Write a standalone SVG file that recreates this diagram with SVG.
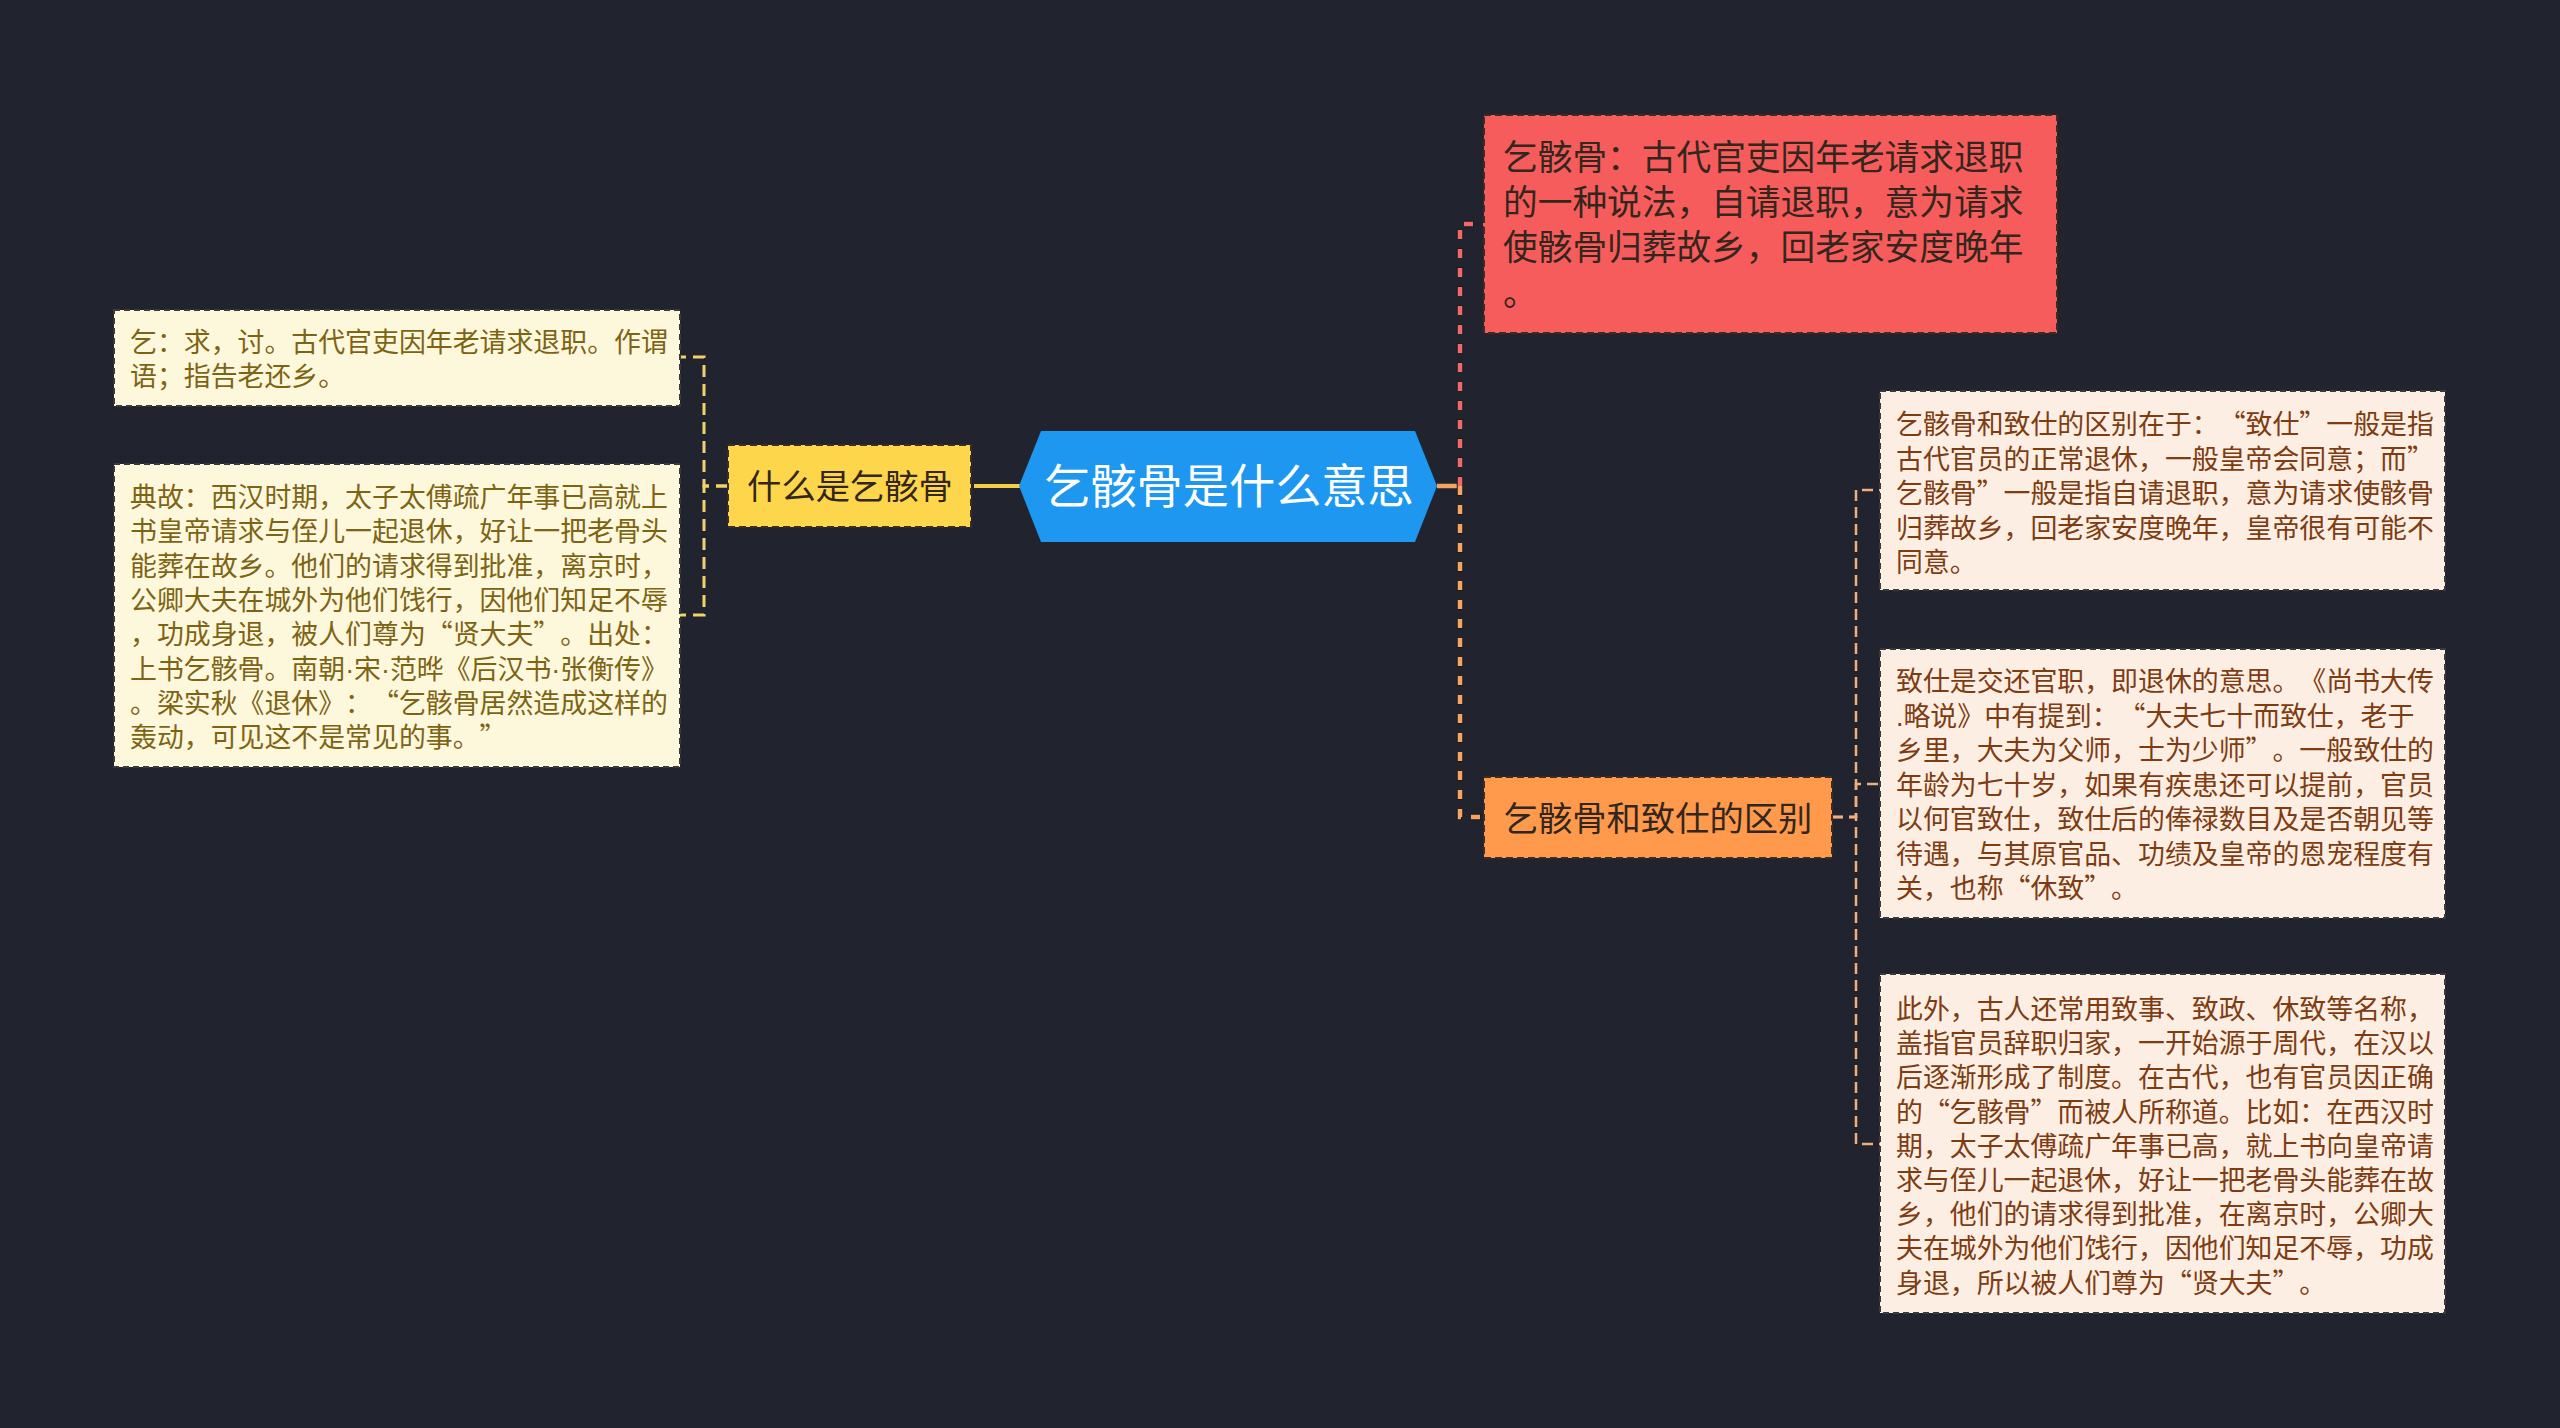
<svg xmlns="http://www.w3.org/2000/svg" width="2560" height="1428" viewBox="0 0 2560 1428">
<style>
  text { font-family: "Noto Sans CJK SC", "Noto Sans", sans-serif; text-spacing-trim: space-all; }
  .lat { font-family: "Liberation Sans", sans-serif; }
  .leafL rect { fill: #fdf7dc; stroke: #3a3a3a; stroke-width: 2; stroke-dasharray: 6 4; }
  .leafL text { fill: #7d6414; font-size: 26.9px; }
  .leafR rect { fill: #fdeee3; stroke: #3a3a3a; stroke-width: 2; stroke-dasharray: 6 4; }
  .leafR text { fill: #7e3c12; font-size: 26.9px; }
  .sub rect { stroke: #3a2e22; stroke-width: 2; stroke-dasharray: 7 4; }
  .sub text { font-size: 34.3px; fill: #33261c; }
  .conn { fill: none; }
</style>
<rect x="0" y="0" width="2560" height="1428" fill="#21242f"/>

<g id="connectors" class="conn">
  <path d="M1020,486 H974" stroke="#f2cf45" stroke-width="4"/>
  <path d="M728,486 H704 V357 H680" stroke="#f0d468" stroke-width="3" stroke-dasharray="12 7"/>
  <path d="M728,486 H704 V615 H680" stroke="#f0d468" stroke-width="3" stroke-dasharray="12 7"/>
  <path d="M1437,486 H1460" stroke="#f5a463" stroke-width="4.5"/>
  <path d="M1460,486 V224 H1484" stroke="#1a1a1a" stroke-width="6.5" stroke-dasharray="10 9"/>
  <path d="M1460,486 V224 H1484" stroke="#ee6a6a" stroke-width="4.5" stroke-dasharray="9 10"/>
  <path d="M1460,486 V817 H1484" stroke="#1a1a1a" stroke-width="6.5" stroke-dasharray="10 9"/>
  <path d="M1460,486 V817 H1484" stroke="#f5a463" stroke-width="4.5" stroke-dasharray="9 10"/>
  <path d="M1832,817 H1856 V490 H1880" stroke="#f2ad7e" stroke-width="2.5" stroke-dasharray="11 6"/>
  <path d="M1832,817 H1856 V784 H1880" stroke="#f2ad7e" stroke-width="2.5" stroke-dasharray="11 6"/>
  <path d="M1832,817 H1856 V1144 H1880" stroke="#f2ad7e" stroke-width="2.5" stroke-dasharray="11 6"/>
</g>

<g id="root">
  <polygon points="1041,431 1415,431 1437,486 1415,542 1041,542 1019,486" fill="#1d97ef"/>
  <text x="1229" y="503" text-anchor="middle" font-size="46.2" fill="#ffffff">乞骸骨是什么意思</text>
</g>

<g id="n-what" class="sub">
  <rect x="728" y="445" width="243" height="82" fill="#fdd64c"/>
  <text x="850" y="499" text-anchor="middle">什么是乞骸骨</text>
</g>

<g id="n-def" class="sub">
  <rect x="1484" y="115" width="573" height="218" fill="#f75c5c"/>
  <text style="font-size:34.7px">
    <tspan x="1503" y="170">乞骸骨：古代官吏因年老请求退职</tspan>
    <tspan x="1503" y="215">的一种说法，自请退职，意为请求</tspan>
    <tspan x="1503" y="260">使骸骨归葬故乡，回老家安度晚年</tspan>
    <tspan x="1503" y="306">。</tspan>
  </text>
</g>

<g id="n-diff" class="sub">
  <rect x="1484" y="777" width="348" height="81" fill="#ff9a4d"/>
  <text x="1658" y="831" text-anchor="middle">乞骸骨和致仕的区别</text>
</g>

<g id="leaf-l1" class="leafL">
  <rect x="114" y="310" width="566" height="96"/>
  <text>
    <tspan x="130" y="351.5">乞：求，讨。古代官吏因年老请求退职。作谓</tspan>
    <tspan x="130" y="385.9">语；指告老还乡。</tspan>
  </text>
</g>

<g id="leaf-l2" class="leafL">
  <rect x="114" y="464" width="566" height="303"/>
  <text>
    <tspan x="130" y="507">典故：西汉时期，太子太傅疏广年事已高就上</tspan>
    <tspan x="130" y="541.3">书皇帝请求与侄儿一起退休，好让一把老骨头</tspan>
    <tspan x="130" y="575.6">能葬在故乡。他们的请求得到批准，离京时，</tspan>
    <tspan x="130" y="609.9">公卿大夫在城外为他们饯行，因他们知足不辱</tspan>
    <tspan x="130" y="644.2">，功成身退，被人们尊为“贤大夫”。出处：</tspan>
    <tspan x="130" y="678.5">上书乞骸骨。南朝<tspan class="lat">·</tspan>宋<tspan class="lat">·</tspan>范晔《后汉书<tspan class="lat">·</tspan>张衡传》</tspan>
    <tspan x="130" y="712.8">。梁实秋《退休》：“乞骸骨居然造成这样的</tspan>
    <tspan x="130" y="747.1">轰动，可见这不是常见的事。”</tspan>
  </text>
</g>

<g id="leaf-r1" class="leafR">
  <rect x="1880" y="391" width="565" height="199"/>
  <text>
    <tspan x="1896" y="434">乞骸骨和致仕的区别在于：“致仕”一般是指</tspan>
    <tspan x="1896" y="468.5">古代官员的正常退休，一般皇帝会同意；而”</tspan>
    <tspan x="1896" y="503">乞骸骨”一般是指自请退职，意为请求使骸骨</tspan>
    <tspan x="1896" y="537.5">归葬故乡，回老家安度晚年，皇帝很有可能不</tspan>
    <tspan x="1896" y="572">同意。</tspan>
  </text>
</g>

<g id="leaf-r2" class="leafR">
  <rect x="1880" y="649" width="565" height="269"/>
  <text>
    <tspan x="1896" y="691">致仕是交还官职，即退休的意思。《尚书大传</tspan>
    <tspan x="1896" y="725.5"><tspan class="lat">.</tspan>略说》中有提到：“大夫七十而致仕，老于</tspan>
    <tspan x="1896" y="760">乡里，大夫为父师，士为少师”。一般致仕的</tspan>
    <tspan x="1896" y="794.5">年龄为七十岁，如果有疾患还可以提前，官员</tspan>
    <tspan x="1896" y="829">以何官致仕，致仕后的俸禄数目及是否朝见等</tspan>
    <tspan x="1896" y="863.5">待遇，与其原官品、功绩及皇帝的恩宠程度有</tspan>
    <tspan x="1896" y="898">关，也称“休致”。</tspan>
  </text>
</g>

<g id="leaf-r3" class="leafR">
  <rect x="1880" y="974" width="565" height="339"/>
  <text>
    <tspan x="1896" y="1019">此外，古人还常用致事、致政、休致等名称，</tspan>
    <tspan x="1896" y="1053.2">盖指官员辞职归家，一开始源于周代，在汉以</tspan>
    <tspan x="1896" y="1087.4">后逐渐形成了制度。在古代，也有官员因正确</tspan>
    <tspan x="1896" y="1121.6">的“乞骸骨”而被人所称道。比如：在西汉时</tspan>
    <tspan x="1896" y="1155.8">期，太子太傅疏广年事已高，就上书向皇帝请</tspan>
    <tspan x="1896" y="1190">求与侄儿一起退休，好让一把老骨头能葬在故</tspan>
    <tspan x="1896" y="1224.2">乡，他们的请求得到批准，在离京时，公卿大</tspan>
    <tspan x="1896" y="1258.4">夫在城外为他们饯行，因他们知足不辱，功成</tspan>
    <tspan x="1896" y="1292.6">身退，所以被人们尊为“贤大夫”。</tspan>
  </text>
</g>
</svg>
